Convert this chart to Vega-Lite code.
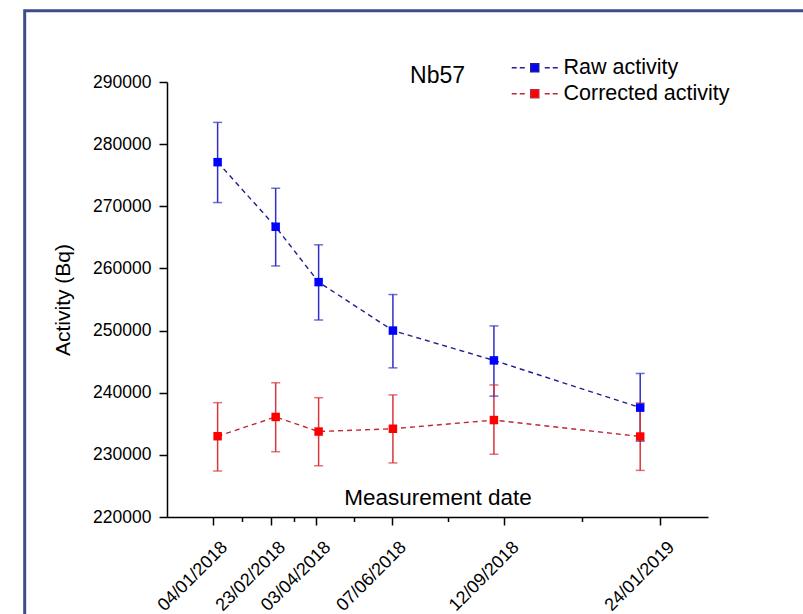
{
  "$schema": "https://vega.github.io/schema/vega-lite/v6.json",
  "autosize": {"type": "none"},
  "padding": {"left": 167, "top": 82, "right": 95, "bottom": 97},
  "width": 541,
  "height": 435,
  "background": "white",
  "config": {
    "font": "Liberation Sans",
    "view": {"stroke": null},
    "axis": {
      "grid": false,
      "domainColor": "black",
      "domainWidth": 1.5,
      "tickColor": "black",
      "tickWidth": 1.5,
      "labelColor": "black",
      "titleColor": "black",
      "labelFont": "Liberation Sans",
      "titleFont": "Liberation Sans",
      "titleFontWeight": "normal"
    }
  },
  "title": {
    "text": "Nb57",
    "anchor": "middle",
    "frame": "group",
    "fontSize": 23,
    "fontWeight": "normal",
    "font": "Liberation Sans",
    "color": "black",
    "baseline": "alphabetic",
    "offset": 0,
    "dy": 97
  },
  "datasets": {
    "activity": [
      {"date": "2018-01-08", "series": "Raw activity", "value": 277100, "lo": 270600, "hi": 283500},
      {"date": "2018-02-27", "series": "Raw activity", "value": 266700, "lo": 260400, "hi": 272900},
      {"date": "2018-04-05", "series": "Raw activity", "value": 257800, "lo": 251700, "hi": 263800},
      {"date": "2018-06-08", "series": "Raw activity", "value": 250000, "lo": 244000, "hi": 255800},
      {"date": "2018-09-03", "series": "Raw activity", "value": 245200, "lo": 239450, "hi": 250750},
      {"date": "2019-01-07", "series": "Raw activity", "value": 237600, "lo": 232200, "hi": 243100},
      {"date": "2018-01-08", "series": "Corrected activity", "value": 233000, "lo": 227400, "hi": 238400},
      {"date": "2018-02-27", "series": "Corrected activity", "value": 236100, "lo": 230500, "hi": 241600},
      {"date": "2018-04-05", "series": "Corrected activity", "value": 233750, "lo": 228250, "hi": 239200},
      {"date": "2018-06-08", "series": "Corrected activity", "value": 234200, "lo": 228700, "hi": 239650},
      {"date": "2018-09-03", "series": "Corrected activity", "value": 235600, "lo": 230100, "hi": 241250},
      {"date": "2019-01-07", "series": "Corrected activity", "value": 232950, "lo": 227500, "hi": 238350}
    ]
  },
  "layer": [
    {
      "data": {"values": [{}]},
      "mark": {"type": "rect", "fill": "transparent", "stroke": "#3e4c8a", "strokeWidth": 3},
      "encoding": {
        "x": {"datum": 1501011648000, "type": "temporal", "scale": {"type": "utc", "domain": [1511602560000, 1551864960000], "nice": false}},
        "x2": {"datum": 1561939200000},
        "y": {"datum": 301474, "type": "quantitative", "scale": {"domain": [220000, 290000], "nice": false, "zero": false}},
        "y2": {"datum": 180000}
      }
    },
    {
      "data": {"name": "activity"},
      "resolve": {"scale": {"color": "independent"}},
      "encoding": {
        "x": {
          "field": "date",
          "type": "temporal",
          "scale": {"type": "utc", "domain": [1511602560000, 1551864960000], "nice": false},
          "axis": {
            "title": "Measurement date",
            "titleFontSize": 22.5,
            "titleX": 270.5,
            "titleY": -13,
            "titleBaseline": "alphabetic",
            "titleAnchor": "middle",
            "values": [1515024000000, 1519344000000, 1522713600000, 1528329600000, 1536710400000, 1548288000000, 1517184000000, 1521028800000, 1525521600000, 1532520000000, 1542499200000],
            "labelExpr": "indexof([1515024000000,1519344000000,1522713600000,1528329600000,1536710400000,1548288000000], time(datum.value)) >= 0 ? utcFormat(datum.value, '%d/%m/%Y') : ''",
            "tickSize": {"condition": {"test": "indexof([1515024000000,1519344000000,1522713600000,1528329600000,1536710400000,1548288000000], time(datum.value)) < 0", "value": 4.5}, "value": 8},
            "labelAngle": -45,
            "labelFontSize": 18,
            "labelPadding": 13,
            "labelOffset": 5,
            "labelOverlap": false,
            "labelBound": false,
            "labelFlush": false
          }
        },
        "y": {
          "field": "value",
          "type": "quantitative",
          "scale": {"domain": [220000, 290000], "nice": false, "zero": false},
          "axis": {
            "title": "Activity (Bq)",
            "titleFontSize": 21,
            "titleX": -104,
            "titleY": 217.5,
            "titleAngle": 270,
            "titleBaseline": "middle",
            "titleAnchor": "middle",
            "values": [220000, 225000, 230000, 235000, 240000, 245000, 250000, 255000, 260000, 265000, 270000, 275000, 280000, 285000, 290000],
            "labelExpr": "datum.value % 10000 == 0 ? format(datum.value, 'd') : ''",
            "tickSize": {"condition": {"test": "datum.value % 10000 != 0", "value": 4.5}, "value": 8},
            "labelFontSize": 17.5,
            "labelPadding": 8,
            "labelOverlap": false,
            "labelFlush": false
          }
        }
      },
      "layer": [
        {
          "mark": {"type": "rule", "strokeWidth": 1.5},
          "encoding": {
            "y": {"field": "lo", "type": "quantitative", "title": "Activity (Bq)"},
            "y2": {"field": "hi"},
            "color": {"field": "series", "type": "nominal", "scale": {"domain": ["Raw activity", "Corrected activity"], "range": ["#3030c4", "#d8353d"]}, "legend": null}
          }
        },
        {
          "mark": {"type": "tick", "orient": "horizontal", "size": 9, "thickness": 1.5},
          "encoding": {
            "y": {"field": "lo", "type": "quantitative", "title": "Activity (Bq)"},
            "color": {"field": "series", "type": "nominal", "scale": {"domain": ["Raw activity", "Corrected activity"], "range": ["#3030c4", "#d8353d"]}, "legend": null}
          }
        },
        {
          "mark": {"type": "tick", "orient": "horizontal", "size": 9, "thickness": 1.5},
          "encoding": {
            "y": {"field": "hi", "type": "quantitative", "title": "Activity (Bq)"},
            "color": {"field": "series", "type": "nominal", "scale": {"domain": ["Raw activity", "Corrected activity"], "range": ["#3030c4", "#d8353d"]}, "legend": null}
          }
        },
        {
          "mark": {"type": "line", "strokeDash": [5, 4], "strokeWidth": 1.4},
          "encoding": {
            "color": {"field": "series", "type": "nominal", "scale": {"domain": ["Raw activity", "Corrected activity"], "range": ["#1e1e90", "#c0283a"]}, "legend": null}
          }
        },
        {
          "mark": {"type": "point", "shape": "square", "filled": true, "size": 72, "opacity": 1},
          "encoding": {
            "color": {
              "field": "series",
              "type": "nominal",
              "scale": {"domain": ["Raw activity", "Corrected activity"], "range": ["#0000ff", "#ff0000"]},
              "legend": {
                "title": null,
                "orient": "none",
                "legendX": 357,
                "legendY": -25,
                "padding": 0,
                "symbolType": "M-4.6,0L-3.6,0M-3,0L-2,0M2,0L3,0M3.6,0L4.6,0M-0.8,-0.8L0.8,-0.8L0.8,0.8L-0.8,0.8Z",
                "symbolSize": 100,
                "symbolStrokeWidth": 1.5,
                "symbolOpacity": 1,
                "labelFontSize": 21.5,
                "labelFont": "Liberation Sans",
                "labelColor": "black",
                "labelOffset": 18,
                "rowPadding": 3,
                "labelLimit": 300,
                "encode": {
                  "symbols": {"update": {"stroke": {"signal": "datum.value == 'Raw activity' ? '#1e1e90' : '#c0283a'"}}}
                }
              }
            }
          }
        }
      ]
    }
  ]
}
